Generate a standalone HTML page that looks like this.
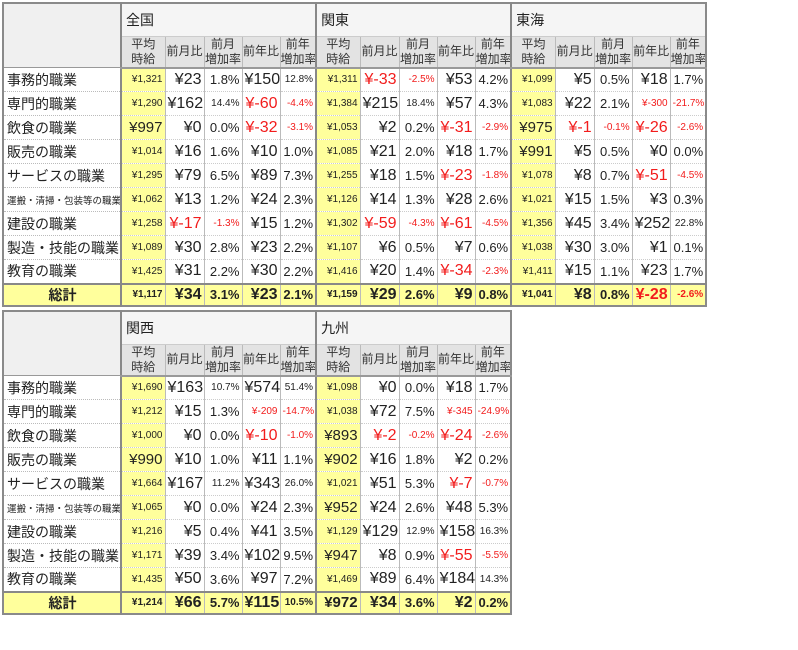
<!DOCTYPE html>
<html><head><meta charset="utf-8">
<style>
body{margin:0;background:#fff;width:798px;height:650px;overflow:hidden;font-family:"Liberation Sans","Noto Sans CJK JP",sans-serif;}
table{position:absolute;border-collapse:collapse;table-layout:fixed;border:2px solid #8a8a8a;}
td{padding:0 2px;white-space:nowrap;overflow:hidden;color:#222;}
td.v{text-align:right;border-left:1px solid #bbb;border-bottom:1px dotted #ccc;}
td.lab{font-size:14px;border-bottom:1px dotted #bbb;text-align:left;padding-left:3px;}
td.avg{background:#ffff9c;border-left:2px solid #888;}
td.reg{background:#f5f5f5;border-left:2px solid #888;font-size:14px;text-align:left;padding-left:4px;border-bottom:1px solid #ccc;}
td.corner{background:#f0f0f0;border-bottom:1px solid #999;}
td.h{background:#e3e3e3;font-size:12px;text-align:center;line-height:15px;border-left:1px solid #bbb;border-bottom:2px solid #999;color:#333;padding:0;}
td.h.first{border-left:2px solid #888;}
tr.tot td{background:#ffff9c;border-top:2px solid #888;font-weight:bold;border-bottom:none;}
.neg{color:#f21c1c;}
</style></head><body>
<script>
const labels=["事務的職業","専門的職業","飲食の職業","販売の職業","サービスの職業","運搬・清掃・包装等の職業","建設の職業","製造・技能の職業","教育の職業"];
const zenkoku=[[1321,23,1.8,150,12.8],[1290,162,14.4,-60,-4.4],[997,0,0.0,-32,-3.1],[1014,16,1.6,10,1.0],[1295,79,6.5,89,7.3],[1062,13,1.2,24,2.3],[1258,-17,-1.3,15,1.2],[1089,30,2.8,23,2.2],[1425,31,2.2,30,2.2],[1117,34,3.1,23,2.1]];
const kanto=[[1311,-33,-2.5,53,4.2],[1384,215,18.4,57,4.3],[1053,2,0.2,-31,-2.9],[1085,21,2.0,18,1.7],[1255,18,1.5,-23,-1.8],[1126,14,1.3,28,2.6],[1302,-59,-4.3,-61,-4.5],[1107,6,0.5,7,0.6],[1416,20,1.4,-34,-2.3],[1159,29,2.6,9,0.8]];
const tokai=[[1099,5,0.5,18,1.7],[1083,22,2.1,-300,-21.7],[975,-1,-0.1,-26,-2.6],[991,5,0.5,0,0.0],[1078,8,0.7,-51,-4.5],[1021,15,1.5,3,0.3],[1356,45,3.4,252,22.8],[1038,30,3.0,1,0.1],[1411,15,1.1,23,1.7],[1041,8,0.8,-28,-2.6]];
const kansai=[[1690,163,10.7,574,51.4],[1212,15,1.3,-209,-14.7],[1000,0,0.0,-10,-1.0],[990,10,1.0,11,1.1],[1664,167,11.2,343,26.0],[1065,0,0.0,24,2.3],[1216,5,0.4,41,3.5],[1171,39,3.4,102,9.5],[1435,50,3.6,97,7.2],[1214,66,5.7,115,10.5]];
const kyushu=[[1098,0,0.0,18,1.7],[1038,72,7.5,-345,-24.9],[893,-2,-0.2,-24,-2.6],[902,16,1.8,2,0.2],[1021,51,5.3,-7,-0.7],[952,24,2.6,48,5.3],[1129,129,12.9,158,16.3],[947,8,0.9,-55,-5.5],[1469,89,6.4,184,14.3],[972,34,3.6,2,0.2]];
const subHeads=["平均<br>時給","前月比","前月<br>増加率","前年比","前年<br>増加率"];
const colW=[44,39,38,38,36];
function yen(n){return "¥"+n.toLocaleString("en-US");}
function fmt(v,k){return k==2||k==4?v.toFixed(1)+"%":yen(v);}
function size(t,k){
  if(k==0) return t.length<=4?15:10;
  if(k==2||k==4) return t.length<=4?13:10;
  return t.length<=4?16:10;
}
function build(top,regions,names){
  const t=document.createElement('table');
  
  
  t.style.left='2px';t.style.top=top+'px';
  t.style.width=(118+195*regions.length)+'px';
  const cg=document.createElement('colgroup');
  let c=document.createElement('col');c.style.width='118px';cg.appendChild(c);
  regions.forEach(()=>colW.forEach(w=>{let c=document.createElement('col');c.style.width=w+'px';cg.appendChild(c);}));
  t.appendChild(cg);
  let r1=t.insertRow();r1.style.height='33px';
  let corner=r1.insertCell();corner.className='corner';corner.rowSpan=2;
  
  
  names.forEach(n=>{let cc=r1.insertCell();cc.colSpan=5;cc.className='reg';cc.textContent=n;
    
    });
  let r2=t.insertRow();r2.style.height='31px';
  names.forEach(()=>subHeads.forEach((h,i)=>{let cc=r2.insertCell();cc.className='h'+(i==0?' first':'');cc.innerHTML=h;
    
    }));
  for(let i=0;i<10;i++){
    let r=t.insertRow();r.style.height=(i==9?'22px':'24px');
    if(i==9)r.className='tot';
    let lc=r.insertCell();lc.className='lab';
    
    
    if(i==9){lc.textContent='総計';lc.style.textAlign='center';}
    else{lc.textContent=labels[i];if(labels[i].length>8)lc.style.fontSize='9.5px';}
    regions.forEach(reg=>{
      reg[i].forEach((v,k)=>{
        let cc=r.insertCell();cc.className='v'+(k==0?' avg':'');
        const txt=fmt(v,k);cc.textContent=txt;
        cc.style.fontSize=size(txt,k)+'px';
        if(v<0)cc.classList.add('neg');
        
        
      });
    });
  }
  document.body.appendChild(t);
}
build(2,[zenkoku,kanto,tokai],["全国","関東","東海"]);
build(310,[kansai,kyushu],["関西","九州"]);
</script>
</body></html>
